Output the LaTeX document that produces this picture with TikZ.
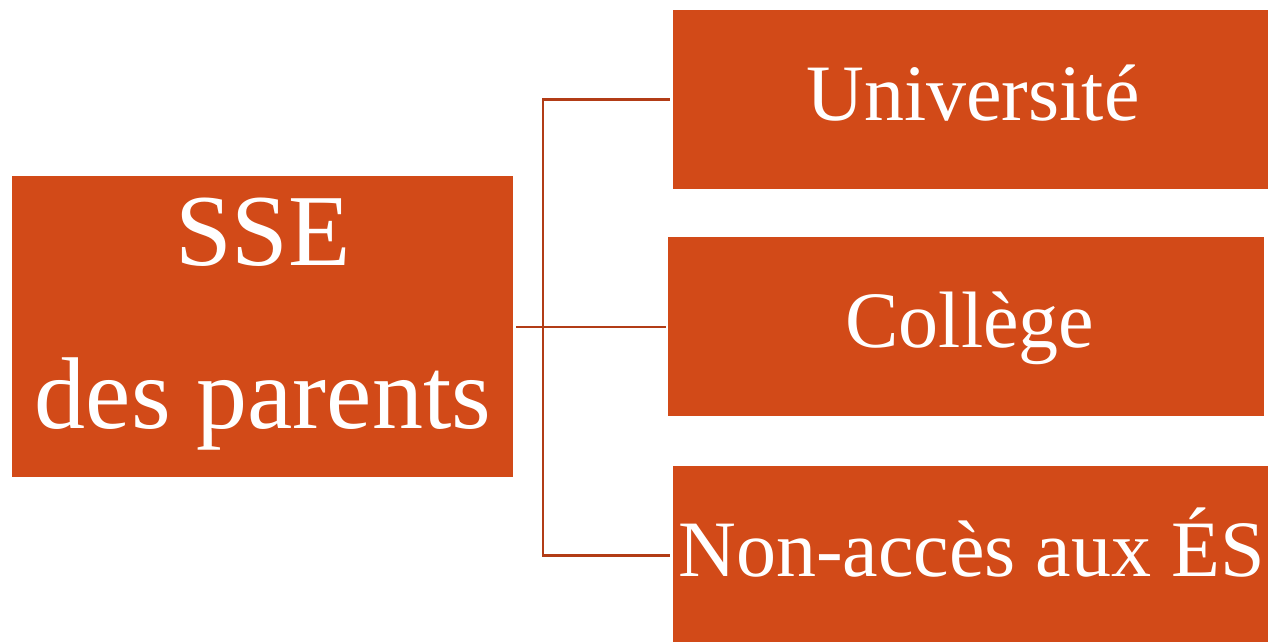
\documentclass[tikz,border=0pt]{standalone}
\usepackage{fontspec}
\setmainfont{Liberation Serif}
\definecolor{boxfill}{HTML}{D24A18}
\definecolor{linecol}{HTML}{B23C16}
\begin{document}
\begin{tikzpicture}[x=1pt,y=-1pt,
  box/.style={fill=boxfill, draw=none, inner sep=0pt, minimum width=595pt, minimum height=179pt},
  lbl/.style={text=white, inner sep=0pt, anchor=base, font=\fontsize{80}{80}\selectfont},
  biglbl/.style={text=white, inner sep=0pt, anchor=base, font=\fontsize{102}{102}\selectfont},
  conn/.style={draw=linecol, line width=2.6pt}]
\useasboundingbox (0,0) rectangle (1275,641);
% boxes
\node[box, minimum width=501pt, minimum height=301pt] (sse) at (262.5,326.5) {};
\node[box] (uni) at (970.5,99.5) {};
\node[box, minimum width=596pt] (col) at (966,326.5) {};
\node[box] (non) at (970.5,555.5) {};
% texts
\node[biglbl] (sseA) at (263,265) {SSE};
\node[biglbl] (sseB) at (263,428) {des parents};
\node[lbl] (uniT) at (973,120) {Université};
\node[lbl] (colT) at (970,347) {Collège};
\node[lbl] (nonT) at (971.5,576) {Non-accès aux ÉS};
% connectors
\coordinate (j) at (543,327);
\draw[conn, shorten <=3pt] (sse.east |- j) -- (j);
\draw[conn, shorten >=3pt] (j) |- (uni.west);
\draw[conn, shorten >=2pt] (j) -- (col.west |- j);
\draw[conn, shorten >=3pt] (j) |- (non.west);
\end{tikzpicture}
\end{document}
